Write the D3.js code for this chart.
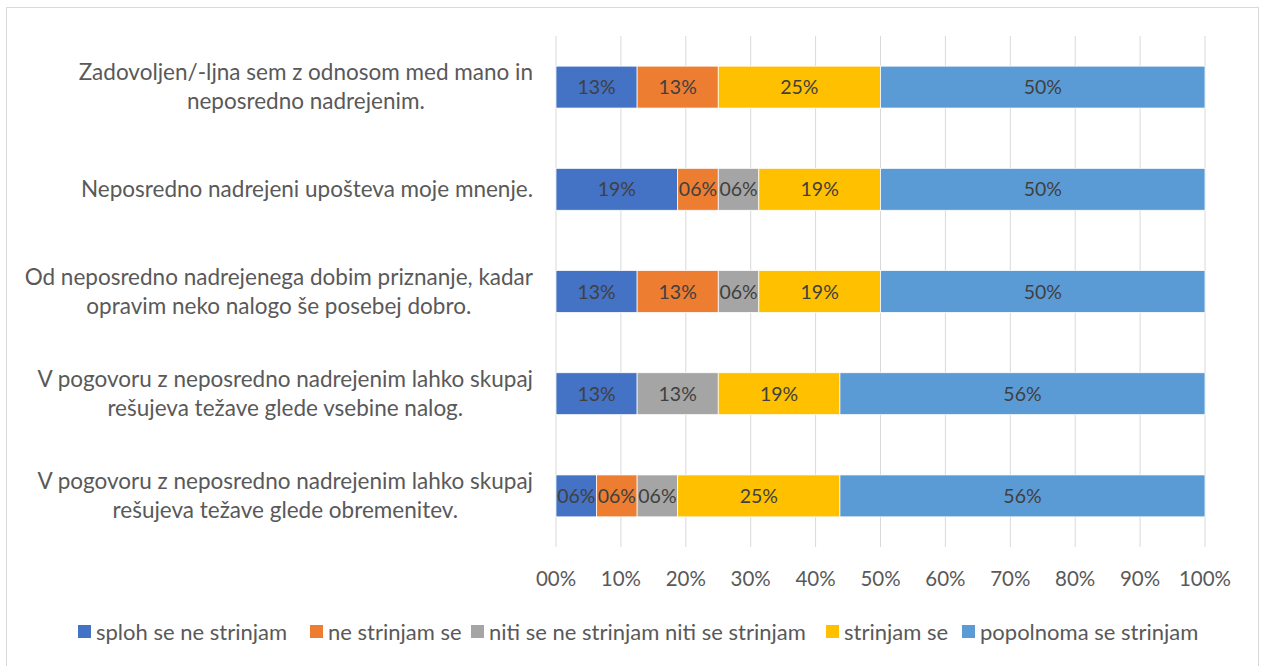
<!DOCTYPE html>
<html>
<head>
	<meta charset="utf-8">
	<title>D3</title>
	<script src="https://d3js.org/d3.v7.min.js"></script>
	<style>
		html, body {
			margin: 0;
			background: white;
			overflow: hidden;
		}
		text {
			font-family: Lato, "Open Sans", sans-serif;
		}
	</style>
</head>
<body>
	<svg id="svg"></svg>
	<script>
		// questions, top to bottom (lines split like in the original)
		const categories = [
			["Zadovoljen/-ljna sem z odnosom med mano in", "neposredno nadrejenim."],
			["Neposredno nadrejeni upošteva moje mnenje."],
			["Od neposredno nadrejenega dobim priznanje, kadar", "opravim neko nalogo še posebej dobro."],
			["V pogovoru z neposredno nadrejenim lahko skupaj", "rešujeva težave glede vsebine nalog."],
			["V pogovoru z neposredno nadrejenim lahko skupaj", "rešujeva težave glede obremenitev."]
		];

		const seriesNames = [
			"sploh se ne strinjam",
			"ne strinjam se",
			"niti se ne strinjam niti se strinjam",
			"strinjam se",
			"popolnoma se strinjam"
		];
		const seriesColors = ["#4472C4", "#ED7D31", "#A5A5A5", "#FFC000", "#5B9BD5"];

		// shares in percent, one array per answer
		const splohSeNe = [12.5, 18.75, 12.5, 12.5, 6.25];
		const neStrinjam = [12.5, 6.25, 12.5, 0, 6.25];
		const niti = [0, 6.25, 6.25, 12.5, 6.25];
		const strinjam = [25, 18.75, 18.75, 18.75, 25];
		const popolnoma = [50, 50, 50, 56.25, 56.25];
		const seriesValues = [splohSeNe, neStrinjam, niti, strinjam, popolnoma];

		const tickValues = [0, 10, 20, 30, 40, 50, 60, 70, 80, 90, 100];

		const W = 1261, H = 666;
		const plot = { left: 556, right: 1205, top: 36, bottom: 547 };

		const svg = d3.select("#svg").attr("width", W).attr("height", H);

		// chart frame
		svg.append("rect")
		.attr("x", 6.5).attr("y", 7.5)
		.attr("width", 1252).attr("height", 680)
		.attr("fill", "white")
		.attr("stroke", "#d9d9d9")
		.attr("stroke-width", 1);

		const x = d3.scaleLinear().domain([0, 100]).range([plot.left, plot.right]);
		const y = d3.scaleBand()
		.domain(d3.range(categories.length))
		.range([plot.top, plot.bottom])
		.paddingInner(0.59)
		.paddingOuter(0.295);

		// gridlines
		svg.append("g")
		.selectAll("line")
		.data(tickValues)
		.enter()
		.append("line")
		.attr("x1", d => x(d)).attr("x2", d => x(d))
		.attr("y1", plot.top).attr("y2", plot.bottom)
		.attr("stroke", "#d9d9d9")
		.attr("stroke-width", 1);

		// tick labels
		const fmt = v => String(Math.round(v)).padStart(2, "0") + "%";
		svg.append("g")
		.selectAll("text")
		.data(tickValues)
		.enter()
		.append("text")
		.attr("x", d => x(d))
		.attr("y", 586)
		.attr("text-anchor", "middle")
		.attr("fill", "#595959")
		.attr("font-size", 20.5)
		.text(fmt);

		// stacked segments
		const rows = categories.map((c, i) => {
			let acc = 0;
			return seriesValues.map((vals, s) => {
				const seg = { row: i, s: s, x0: acc, x1: acc + vals[i], v: vals[i] };
				acc += vals[i];
				return seg;
			});
		}).flat().filter(d => d.v > 0);

		const segs = svg.append("g")
		.selectAll("g")
		.data(rows)
		.enter()
		.append("g");

		segs.append("rect")
		.attr("x", d => x(d.x0))
		.attr("y", d => y(d.row))
		.attr("width", d => x(d.x1) - x(d.x0))
		.attr("height", y.bandwidth())
		.attr("fill", d => seriesColors[d.s])
		.attr("stroke", "white")
		.attr("stroke-width", 0.75);

		segs.append("text")
		.attr("x", d => (x(d.x0) + x(d.x1)) / 2)
		.attr("y", d => y(d.row) + y.bandwidth() / 2 + 7)
		.attr("text-anchor", "middle")
		.attr("fill", "#404040")
		.attr("font-size", 19.5)
		.text(d => fmt(d.v));

		// category labels: block right aligned, lines centred inside it
		const labelRight = 533;
		const lineH = 29;
		categories.forEach((lines, i) => {
			const g = svg.append("g");
			const cy = y(i) + y.bandwidth() / 2;
			const texts = lines.map((l, k) => g.append("text")
				.attr("y", cy + (k - (lines.length - 1) / 2) * lineH + 7.5)
				.attr("text-anchor", "middle")
				.attr("fill", "#595959")
				.attr("font-size", 22.5)
				.text(l));
			const maxW = d3.max(texts, t => t.node().getComputedTextLength());
			texts.forEach(t => t.attr("x", labelRight - maxW / 2));
		});

		// legend
		const legendX = [78, 310, 471, 826, 962];
		const legend = svg.append("g")
		.selectAll("g")
		.data(seriesNames)
		.enter()
		.append("g")
		.attr("transform", (d, i) => `translate(${legendX[i]}, 632)`);

		legend.append("rect")
		.attr("x", 0).attr("y", -7)
		.attr("width", 13).attr("height", 13)
		.attr("fill", (d, i) => seriesColors[i]);

		legend.append("text")
		.attr("x", 18)
		.attr("y", 7.5)
		.attr("fill", "#595959")
		.attr("font-size", 22)
		.text(d => d);
	</script>
</body>
</html>
